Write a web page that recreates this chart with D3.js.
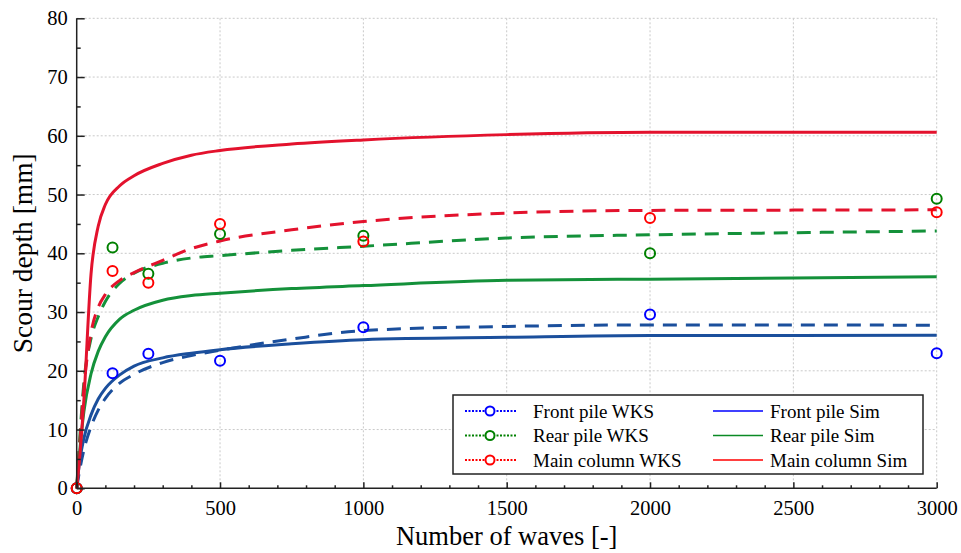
<!DOCTYPE html>
<html>
<head>
<meta charset="utf-8">
<script src="https://cdn.jsdelivr.net/npm/d3@7"></script>
<style>
  html, body { margin: 0; padding: 0; background: #fff; }
  svg { display: block; font-family: "Liberation Serif", "Times New Roman", serif; }
</style>
</head>
<body>
<svg id="chart" width="961" height="553"></svg>
<script>
// Number of waves at which the curves are sampled
const curveWaves = [0, 10, 25, 50, 75, 100, 150, 200, 300, 400, 500, 750, 1000, 1500, 2000, 2500, 3000];

// Simulated scour depth [mm]
const frontSim = [0, 4.5, 8.5, 12.5, 15.2, 17.0, 19.3, 20.8, 22.2, 23.0, 23.6, 24.6, 25.3, 25.7, 26.0, 26.0, 26.05];
const rearSim  = [0, 6.0, 13.0, 19.5, 23.3, 25.8, 28.8, 30.3, 32.0, 32.8, 33.2, 34.0, 34.5, 35.4, 35.6, 35.8, 36.0];
const mainSim  = [0, 5.0, 15.0, 36.5, 44.6, 48.3, 51.5, 53.2, 55.3, 56.7, 57.5, 58.6, 59.3, 60.2, 60.6, 60.6, 60.6];

// WKS trend curves [mm]
const frontWksCurve = [0, 3.0, 6.5, 10.5, 13.3, 15.3, 17.9, 19.4, 21.4, 22.6, 23.5, 25.4, 26.85, 27.55, 27.8, 27.8, 27.75];
const rearWksCurve  = [0, 8.0, 18.0, 25.5, 29.2, 31.8, 34.9, 36.6, 38.3, 39.2, 39.6, 40.5, 41.2, 42.6, 43.15, 43.5, 43.8];
const mainWksCurve  = [0, 7.0, 17.0, 26.5, 30.8, 33.0, 35.4, 36.7, 38.8, 40.8, 42.1, 44.0, 45.4, 46.85, 47.3, 47.35, 47.4];

// Measured WKS scour depth [mm]
const measuredWaves = [0, 125, 250, 500, 1000, 2000, 3000];
const frontWks = [0, 19.6, 22.9, 21.7, 27.4, 29.6, 23.0];
const rearWks  = [0, 41.0, 36.5, 43.3, 43.0, 40.0, 49.3];
const mainWks  = [0, 37.0, 35.0, 45.0, 42.0, 46.0, 47.0];

// Axis ticks
const xTicks = [0, 500, 1000, 1500, 2000, 2500, 3000];
const yTicks = [0, 10, 20, 30, 40, 50, 60, 70, 80];

const svg = d3.select("#chart");
const plotLeft = 76.7, plotRight = 936.7, plotTop = 18.3, plotBottom = 488.3;

const x = d3.scaleLinear().domain([0, 3000]).range([plotLeft, plotRight]);
const y = d3.scaleLinear().domain([0, 80]).range([plotBottom, plotTop]);

// Grid
const grid = svg.append("g").attr("stroke", "#c9c9c9").attr("stroke-width", 1).attr("stroke-dasharray", "2,2");
grid.selectAll("line.v").data(xTicks.filter(d => d > 0)).join("line").attr("class", "v")
  .attr("x1", d => x(d)).attr("x2", d => x(d)).attr("y1", plotTop).attr("y2", plotBottom);
grid.selectAll("line.h").data(yTicks.filter(d => d > 0)).join("line").attr("class", "h")
  .attr("x1", plotLeft).attr("x2", plotRight).attr("y1", d => y(d)).attr("y2", d => y(d));

// Curves
const lineGen = d3.line().x(d => x(d[0])).y(d => y(d[1])).curve(d3.curveMonotoneX);
const curves = [
  { vals: frontWksCurve, color: "#1b4f9c", dash: "14,9" },
  { vals: rearWksCurve,  color: "#14913a", dash: "14,9" },
  { vals: mainWksCurve,  color: "#e3122d", dash: "14,9" },
  { vals: frontSim, color: "#1b4f9c", dash: null },
  { vals: rearSim,  color: "#14913a", dash: null },
  { vals: mainSim,  color: "#e3122d", dash: null }
];
svg.append("g").selectAll("path").data(curves).join("path")
  .attr("d", c => lineGen(curveWaves.map((w, i) => [w, c.vals[i]])))
  .attr("fill", "none")
  .attr("stroke", c => c.color)
  .attr("stroke-width", 3)
  .attr("stroke-dasharray", c => c.dash);

// Measured points
const pointSets = [
  { vals: frontWks, color: "#0000ff" },
  { vals: rearWks,  color: "#008000" },
  { vals: mainWks,  color: "#ff0000" }
];
pointSets.forEach(s => {
  svg.append("g").selectAll("circle").data(measuredWaves.map((w, i) => [w, s.vals[i]])).join("circle")
    .attr("cx", d => x(d[0])).attr("cy", d => y(d[1])).attr("r", 5)
    .attr("fill", "none").attr("stroke", s.color).attr("stroke-width", 2);
});

// Axes with inward ticks
const axisColor = "#222";
const xAxis = d3.axisBottom(x).tickValues(xTicks).tickSize(-6).tickPadding(12).tickFormat(d3.format("d"));
const gx = svg.append("g").attr("transform", `translate(0,${plotBottom})`).call(xAxis);
gx.selectAll(".tick text").attr("font-size", 20.5).attr("fill", "#000").attr("font-family", "Liberation Serif");
gx.select(".domain").attr("d", `M${plotLeft},0H${plotRight}`);
svg.append("g").attr("transform", `translate(0,${plotBottom})`)
  .call(d3.axisBottom(x).tickValues(d3.range(100, 3000, 100).filter(d => d % 500 !== 0)).tickSize(-3).tickFormat(""))
  .call(g => g.select(".domain").remove());

const yAxis = d3.axisLeft(y).tickValues(yTicks).tickSize(-8).tickPadding(9);
const gy = svg.append("g").attr("transform", `translate(${plotLeft},0)`).call(yAxis);
gy.selectAll(".tick text").attr("font-size", 20.5).attr("fill", "#000").attr("font-family", "Liberation Serif");
gy.select(".domain").attr("d", `M0,${plotTop}V${plotBottom}`);
svg.append("g").attr("transform", `translate(${plotLeft},0)`)
  .call(d3.axisLeft(y).tickValues(d3.range(5, 80, 10)).tickSize(-4).tickFormat(""))
  .call(g => g.select(".domain").remove());

svg.selectAll(".domain, .tick line").attr("stroke", axisColor).attr("stroke-width", 1.5);

// Axis titles
svg.append("text").attr("x", (plotLeft + plotRight) / 2).attr("y", 545)
  .attr("text-anchor", "middle").attr("font-size", 26.5).text("Number of waves [-]");
svg.append("text").attr("transform", `translate(32,${(plotTop + plotBottom) / 2}) rotate(-90)`)
  .attr("text-anchor", "middle").attr("font-size", 27.5).text("Scour depth [mm]");

// Legend
const legend = svg.append("g");
legend.append("rect").attr("x", 453).attr("y", 395).attr("width", 470).attr("height", 79)
  .attr("fill", "#fff").attr("stroke", "#222").attr("stroke-width", 1.5);
const legendRows = [
  { wks: "Front pile WKS", sim: "Front pile Sim", color: "#0000ff", simColor: "#0000ff" },
  { wks: "Rear pile WKS", sim: "Rear pile Sim", color: "#008000", simColor: "#0a8a24" },
  { wks: "Main column WKS", sim: "Main column Sim", color: "#ff0000", simColor: "#ff0000" }
];
legendRows.forEach((r, i) => {
  const ly = 411 + i * 24.5;
  legend.append("line").attr("x1", 465).attr("x2", 517).attr("y1", ly).attr("y2", ly)
    .attr("stroke", r.color).attr("stroke-width", 2).attr("stroke-dasharray", "2,1.5");
  legend.append("circle").attr("cx", 490).attr("cy", ly).attr("r", 4.5)
    .attr("fill", "#fff").attr("stroke", r.color).attr("stroke-width", 2);
  legend.append("text").attr("x", 533).attr("y", ly).attr("dy", "0.35em")
    .attr("font-size", 19).text(r.wks);
  legend.append("line").attr("x1", 713).attr("x2", 763).attr("y1", ly).attr("y2", ly)
    .attr("stroke", r.simColor).attr("stroke-width", 1.5);
  legend.append("text").attr("x", 770).attr("y", ly).attr("dy", "0.35em")
    .attr("font-size", 19).text(r.sim);
});
</script>
</body>
</html>
